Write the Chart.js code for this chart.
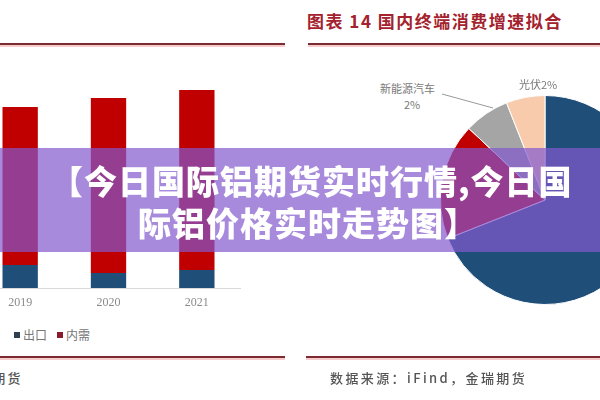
<!DOCTYPE html>
<html>
<head>
<meta charset="utf-8">
<script src="https://cdn.jsdelivr.net/npm/chart.js@4"></script>
<style>
  html, body { margin: 0; padding: 0; width: 600px; height: 400px; overflow: hidden; background: #fff; }
  body { position: relative; font-family: "Noto Sans CJK SC", sans-serif; }
  .abs { position: absolute; }
  .rule { position: absolute; height: 2px; background: #7d2a33; box-shadow: 0 2px 0 #f6cccc; }
  .src { position: absolute; top: 368px; font-size: 13px; color: #555; letter-spacing: 2.4px; white-space: nowrap; font-weight: 500; }
  .plabel { position: absolute; font-size: 11px; color: #7a7a7a; white-space: nowrap; line-height: 12px; }
  #legend { position: absolute; left: 14px; top: 326px; font-size: 12px; color: #777; display: flex; gap: 10px; }
  #legend span i { display: inline-block; width: 6px; height: 6px; margin-right: 3px; vertical-align: 2px; }
  #banner { position: absolute; left: 0; top: 148px; width: 600px; height: 104px; background: rgba(131, 88, 207, 0.7); }
  .btxt { position: absolute; color: #fff; font-size: 33px; line-height: 33px; font-weight: 900; letter-spacing: 1px; white-space: nowrap; }
</style>
</head>
<body>
<!-- left chart -->
<div class="rule" style="left:0;top:43px;width:285px"></div>
<canvas id="bars" class="abs" style="left:-24px;top:38px" width="265" height="280"></canvas>
<div id="legend"></div>
<div class="rule" style="left:0;top:356px;width:285px"></div>
<div class="src" style="right:577px">数据来源：iFind，金瑞期货</div>

<!-- right chart -->
<div class="abs" style="left:307px;top:8px;font-size:17px;font-weight:700;color:#a3222d;letter-spacing:1.5px;white-space:nowrap">图表 14 国内终端消费增速拟合</div>
<div class="rule" style="left:308px;top:43px;width:292px"></div>
<canvas id="pie" class="abs" style="left:440px;top:95px" width="210" height="210"></canvas>
<div class="plabel" style="left:380px;top:82px">新能源汽车</div>
<div class="plabel" style="left:404px;top:98px">2%</div>
<svg class="abs" style="left:0;top:0" width="600" height="400"><line x1="442" y1="94" x2="493" y2="108" stroke="#999" stroke-width="1"/></svg>
<div class="plabel" style="left:519px;top:78px">光伏2%</div>
<div class="rule" style="left:306px;top:356px;width:294px"></div>
<div class="src" style="left:330px">数据来源：iFind，金瑞期货</div>

<!-- overlay banner -->
<div id="banner"></div>
<div class="btxt" style="left:50px;top:164px">【今日国际铝期货实时行情,今日国</div>
<div class="btxt" style="left:138px;top:206px">际铝价格实时走势图】</div>

<script>
// 铝消费：出口 / 内需（万吨，按图估读）
const years = ["2019", "2020", "2021"];
const exportVals = [460, 300, 360];
const domesticVals = [3160, 3500, 3600];
const seriesNames = ["出口", "内需"];
const seriesColors = ["#1f4e79", "#c00000"];

// 终端消费结构（按扇区角度估读）
const pieLabels = ["其他", "建筑", "新能源汽车", "光伏"];
const pieVals = [69, 18, 7, 6];
const pieColors = ["#1f4e79", "#c00000", "#a5a5a5", "#f8cbad"];

new Chart(document.getElementById("bars"), {
  type: "bar",
  data: {
    labels: years,
    datasets: [
      { label: seriesNames[0], data: exportVals, backgroundColor: seriesColors[0] },
      { label: seriesNames[1], data: domesticVals, backgroundColor: seriesColors[1] }
    ]
  },
  options: {
    responsive: false,
    animation: false,
    barPercentage: 0.4,
    categoryPercentage: 1,
    layout: { padding: 0 },
    plugins: { legend: { display: false }, tooltip: { enabled: false } },
    scales: {
      x: {
        stacked: true,
        grid: { display: false, drawTicks: false },
        border: { display: true, color: "#d9d9d9" },
        ticks: { color: "#8a8a8a", padding: 8, font: { family: "Liberation Serif", size: 12 } },
        afterFit: s => { s.height = 30; }
      },
      y: { stacked: true, display: false, min: 0, max: 5000 }
    }
  }
});

// legend built from the series
document.getElementById("legend").innerHTML = seriesNames
  .map((n, i) => `<span><i style="background:${i ? "#8b1a2a" : "#2f3f52"}"></i>${n}</span>`)
  .join("");

new Chart(document.getElementById("pie"), {
  type: "pie",
  data: {
    labels: pieLabels,
    datasets: [{ data: pieVals, backgroundColor: pieColors, borderColor: "#fff", borderWidth: 1 }]
  },
  options: {
    responsive: false,
    animation: false,
    layout: { padding: 0 },
    plugins: { legend: { display: false }, tooltip: { enabled: false } }
  }
});
</script>
</body>
</html>
